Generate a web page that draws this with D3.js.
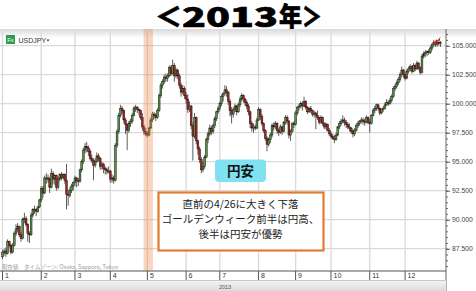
<!DOCTYPE html>
<html>
<head>
<meta charset="utf-8">
<script src="https://cdn.jsdelivr.net/npm/d3@7"></script>
<style>
  body { margin: 0; background: #fff; }
  svg { display: block; }
</style>
</head>
<body>
<svg id="chart" width="476" height="291"></svg>
<script>
// USDJPY daily candles 2013, [open, high, low, close], one array per month
const jan = [[86.8,87.4,86.6,87.2],[87.2,87.5,86.9,87.3],[87.3,87.6,86.8,87.1],[87.1,88.3,87.0,88.1],[88.1,88.2,87.6,87.8],
  [87.8,87.9,87.0,87.2],[87.2,88.0,87.1,87.8],[87.8,89.0,87.7,88.8],[88.8,89.6,88.6,89.2],[89.2,89.7,88.9,89.4],
  [89.4,89.5,88.5,88.7],[88.7,88.9,88.1,88.4],[88.4,90.2,88.3,90.0],[90.0,90.6,89.7,90.1],[90.1,90.3,89.4,89.6],
  [89.6,89.7,88.1,88.8],[88.8,89.0,88.0,88.7],[88.7,90.6,88.6,90.4],[90.4,91.0,90.2,90.9],[90.9,91.2,90.5,90.9],
  [90.9,91.0,90.3,90.7],[90.7,91.2,90.6,91.1],[91.1,91.8,91.0,91.7]];
const feb = [[91.7,92.9,91.5,92.7],[92.7,92.9,91.9,92.3],[92.3,93.8,92.2,93.6],[93.6,94.0,93.1,93.6],[93.6,93.9,93.2,93.5],
  [93.5,93.7,92.3,92.8],[92.8,94.4,92.7,94.0],[94.0,94.2,93.1,93.5],[93.5,93.9,93.0,93.8],[93.8,93.9,92.5,92.8],
  [92.8,93.7,92.6,93.5],[93.5,94.0,93.3,93.9],[93.9,94.1,93.4,93.6],[93.6,94.0,93.5,93.9],[93.9,94.0,93.1,93.4],
  [93.4,94.8,90.9,92.2],[92.2,92.6,91.2,92.1],[92.1,92.8,91.9,92.5],[92.5,93.1,92.3,92.9],[92.9,93.3,92.5,93.2]];
const mar = [[93.2,93.8,92.9,93.6],[93.6,93.7,92.8,93.4],[93.4,93.6,92.9,93.3],[93.3,94.4,93.2,94.3],[94.3,95.2,94.1,95.0],
  [95.0,96.2,94.8,96.0],[96.0,96.6,95.7,96.3],[96.3,96.7,95.8,96.2],[96.2,96.4,95.5,95.9],[95.9,96.1,95.1,95.3],
  [95.3,95.6,94.9,95.1],[95.1,95.3,93.4,94.7],[94.7,95.3,94.5,95.0],[95.0,95.8,94.9,95.5],[95.5,95.7,95.0,95.3],
  [95.3,95.4,94.3,94.6],[94.6,95.0,94.3,94.8],[94.8,94.9,94.0,94.4],[94.4,94.6,93.9,94.3],[94.3,94.5,93.9,94.2],
  [94.2,94.6,94.0,94.2]];
const apr = [[94.2,94.3,93.2,93.5],[93.5,93.9,93.2,93.6],[93.6,93.8,93.1,93.4],[93.4,96.6,93.3,96.4],[96.4,97.8,96.2,97.6],
  [97.6,99.2,97.4,99.0],[99.0,99.9,98.8,99.6],[99.6,99.8,99.1,99.4],[99.4,99.5,98.3,98.6],[98.6,98.8,97.4,98.2],
  [98.2,98.3,96.0,97.7],[97.7,98.5,97.5,98.3],[98.3,98.7,98.0,98.5],[98.5,99.2,98.3,99.0],[99.0,99.8,98.9,99.6],
  [99.6,99.9,99.3,99.7],[99.7,99.8,99.2,99.5],[99.5,99.6,99.0,99.4],[99.4,99.5,98.6,98.8],[98.8,99.2,97.7,98.0],
  [98.0,98.2,97.3,97.6],[97.6,97.9,97.2,97.4]];
const may = [[97.4,97.6,97.1,97.3],[97.3,98.0,97.2,97.9],[97.9,98.8,97.8,98.6],[98.6,99.3,98.4,99.1],[99.1,99.3,98.7,99.0],
  [99.0,99.2,98.5,98.8],[98.8,99.6,98.7,99.4],[99.4,100.9,99.3,100.7],[100.7,101.8,100.5,101.6],[101.6,102.1,101.3,101.9],
  [101.9,102.5,101.7,102.3],[102.3,102.6,101.9,102.2],[102.2,102.6,101.9,102.4],[102.4,103.3,102.3,103.1],[103.1,103.3,102.4,102.6],
  [102.6,103.8,102.5,103.3],[103.3,103.5,101.9,102.4],[102.4,103.1,102.2,102.9],[102.9,103.0,102.1,102.4],[102.4,102.6,101.3,101.6],
  [101.6,101.8,100.6,101.0],[101.0,101.6,100.8,101.3],[101.3,101.5,100.4,100.7]];
const jun = [[100.7,101.0,100.0,100.4],[100.4,100.8,99.2,99.5],[99.5,100.2,99.3,99.8],[99.8,99.9,97.8,98.1],[98.1,98.4,95.1,97.2],
  [97.2,99.2,97.0,98.8],[98.8,98.9,96.5,96.8],[96.8,96.9,95.6,96.1],[96.1,96.3,94.9,95.2],[95.2,95.4,94.0,94.3],
  [94.3,95.0,94.1,94.6],[94.6,95.6,94.4,95.4],[95.4,97.1,95.3,96.9],[96.9,97.6,96.6,97.4],[97.4,98.2,97.2,97.9],
  [97.9,98.1,97.3,97.6],[97.6,98.3,97.4,98.1],[98.1,98.9,97.9,98.7],[98.7,99.4,98.5,99.3],[99.3,99.8,99.1,99.6]];
const jul = [[99.6,100.2,99.4,100.0],[100.0,100.8,99.8,100.6],[100.6,101.0,100.2,100.9],[100.9,101.6,100.7,101.2],[101.2,101.5,100.6,101.0],
  [101.0,101.1,99.9,100.2],[100.2,100.4,98.9,99.4],[99.4,99.7,98.3,99.1],[99.1,99.7,98.8,99.5],[99.5,100.0,99.3,99.8],
  [99.8,99.9,99.0,99.3],[99.3,100.1,99.2,99.9],[99.9,100.6,99.7,100.4],[100.4,100.9,100.2,100.7],[100.7,100.8,100.1,100.4],
  [100.4,100.5,99.8,100.1],[100.1,100.3,99.5,99.8],[99.8,100.0,99.0,99.3],[99.3,99.4,97.9,98.3],[98.3,98.5,97.6,97.9],
  [97.9,98.3,97.5,98.0],[98.0,98.2,97.7,97.9],[97.9,98.8,97.8,98.6]];
const aug = [[98.6,99.7,98.5,99.5],[99.5,99.6,98.6,98.9],[98.9,99.1,98.1,98.3],[98.3,98.4,97.5,97.7],[97.7,97.8,96.8,97.0],
  [97.0,97.2,95.9,96.5],[96.5,97.1,96.3,96.9],[96.9,97.5,96.6,97.3],[97.3,98.3,97.1,98.1],[98.1,98.4,97.7,98.0],
  [98.0,98.5,97.8,98.3],[98.3,98.4,97.4,97.7],[97.7,97.9,97.2,97.5],[97.5,98.2,97.4,98.0],[98.0,98.1,97.3,97.6],
  [97.6,98.5,97.5,98.4],[98.4,99.0,98.2,98.8],[98.8,99.0,98.2,98.5],[98.5,98.6,97.0,97.3],[97.3,97.8,96.8,97.6],
  [97.6,98.4,97.5,98.3],[98.3,98.5,97.9,98.2]];
const sep = [[98.2,99.4,98.1,99.2],[99.2,99.8,99.0,99.7],[99.7,100.0,99.4,99.8],[99.8,100.2,99.6,100.0],[100.0,100.2,99.4,99.8],
  [99.8,100.6,99.7,100.2],[100.2,100.3,99.5,99.7],[99.7,99.8,99.1,99.3],[99.3,99.7,99.2,99.6],[99.6,99.8,99.2,99.4],
  [99.4,99.5,98.9,99.1],[99.1,99.4,98.8,99.2],[99.2,99.3,97.8,99.0],[99.0,99.4,98.6,98.8],[98.8,98.9,98.2,98.4],
  [98.4,99.0,98.3,98.8],[98.8,98.9,98.1,98.3],[98.3,98.4,97.8,98.0],[98.0,98.4,97.8,98.2],[98.2,98.3,97.6,97.7],
  [97.7,97.9,97.2,97.4]];
const oct = [[97.4,97.6,97.0,97.2],[97.2,97.4,96.9,97.0],[97.0,97.3,96.6,96.9],[96.9,97.5,96.8,97.3],[97.3,98.1,97.2,98.0],
  [98.0,98.5,97.8,98.3],[98.3,98.7,98.1,98.5],[98.5,99.0,98.3,98.6],[98.6,98.8,98.1,98.4],[98.4,98.6,97.9,98.2],
  [98.2,98.4,97.8,98.0],[98.0,98.3,97.6,97.9],[97.9,98.0,97.4,97.6],[97.6,97.8,97.1,97.4],[97.4,97.9,97.2,97.7],
  [97.7,98.3,97.6,98.1],[98.1,98.5,97.9,98.3],[98.3,98.6,98.1,98.5],[98.5,98.8,98.3,98.6],[98.6,98.8,98.2,98.5],
  [98.5,98.7,98.1,98.4],[98.4,99.0,98.3,98.8],[98.8,98.9,98.2,98.4]];
const nov = [[98.4,98.7,97.5,98.3],[98.3,99.1,98.2,99.0],[99.0,99.6,98.9,99.4],[99.4,99.8,99.2,99.6],[99.6,100.0,99.4,99.9],
  [99.9,100.0,99.4,99.6],[99.6,99.7,99.0,99.2],[99.2,99.6,99.1,99.5],[99.5,99.8,99.3,99.6],[99.6,100.1,99.5,99.9],
  [99.9,100.4,99.8,100.1],[100.1,100.3,99.8,100.0],[100.0,100.5,99.9,100.3],[100.3,100.8,100.1,100.6],[100.6,101.5,100.5,101.3],
  [101.3,101.7,101.1,101.5],[101.5,102.0,101.3,101.8],[101.8,102.3,101.6,102.1],[102.1,102.7,101.9,102.5],[102.5,103.2,102.3,102.9],
  [102.9,103.0,102.2,102.5]];
const dec = [[102.5,102.7,102.0,102.2],[102.2,103.0,102.1,102.8],[102.8,103.2,102.6,103.0],[103.0,103.4,102.8,103.2],[103.2,103.3,102.6,102.8],
  [102.8,103.5,102.7,103.3],[103.3,103.4,102.8,103.0],[103.0,103.7,102.9,103.5],[103.5,103.6,102.9,103.1],[103.1,103.2,102.5,102.7],
  [102.7,104.3,102.6,104.1],[104.1,104.5,103.9,104.3],[104.3,104.6,104.0,104.4],[104.4,104.6,104.1,104.5],[104.5,104.7,104.2,104.4],
  [104.4,105.0,104.3,104.8],[104.8,105.2,104.6,105.1],[105.1,105.5,104.9,105.3],[105.3,105.4,104.9,105.1],[105.1,105.4,104.9,105.3],
  [105.3,105.5,105.0,105.2],[105.2,105.4,104.9,105.3]];

const months = [jan, feb, mar, apr, may, jun, jul, aug, sep, oct, nov, dec];
const monthLabels = ["1","2","3","4","5","6","7","8","9","10","11","12"];
const priceTicks = [87.5, 90, 92.5, 95, 97.5, 100, 102.5, 105];
const yearLabel = "2013";
// Golden Week shading: first and last trading day index (Apr 29 .. May 6)
const gwStart = 84, gwEnd = 89;

const candles = [];
const monthStart = [];
months.forEach(m => {
  monthStart.push(candles.length);
  m.forEach(d => candles.push({i: candles.length, o: d[0], h: d[1], l: d[2], c: d[3]}));
});

const svg = d3.select('#chart');
const W = 476, H = 291;
const plot = {left: 0, right: 446, top: 29, bottom: 271};

const x = d3.scaleLinear().domain([0, candles.length - 1]).range([2.5, 440.5]);
const y = d3.scaleLinear().domain([87.5, 105]).range([248.7, 45.7]);

// title: wide heavy lettering, each piece stretched to its width
const titleParts = [
  {t: '＜', x: 155, w: 27},
  {t: '2013', x: 182, w: 96},
  {t: '年', x: 279, w: 23},
  {t: '＞', x: 302, w: 20}
];
let title = svg.append('text')
  .attr('y', 27)
  .style('font-family', '"Noto Sans CJK JP", sans-serif')
  .style('font-weight', 900).style('font-size', '27px')
  .style('fill', '#000').style('stroke', '#000').style('stroke-width', 0.6);
title.selectAll('tspan').data(titleParts).enter().append('tspan')
  .attr('x', d => d.x)
  .attr('textLength', d => d.w).attr('lengthAdjust', 'spacingAndGlyphs')
  .text(d => d.t);

const defs = svg.append('defs');
let g1 = defs.append('linearGradient').attr('id', 'topShade').attr('x1', 0).attr('x2', 0).attr('y1', 0).attr('y2', 1);
g1.append('stop').attr('offset', '0%').attr('stop-color', '#d9d9d9');
g1.append('stop').attr('offset', '100%').attr('stop-color', '#ffffff');
let g2 = defs.append('linearGradient').attr('id', 'botShade').attr('x1', 0).attr('x2', 0).attr('y1', 0).attr('y2', 1);
g2.append('stop').attr('offset', '0%').attr('stop-color', '#f4f4f4');
g2.append('stop').attr('offset', '100%').attr('stop-color', '#dcdcdc');
defs.append('clipPath').attr('id', 'plotClip')
  .append('rect').attr('x', plot.left).attr('y', plot.top)
  .attr('width', plot.right - plot.left).attr('height', plot.bottom - plot.top);

// panel top shading
svg.append('rect').attr('x', 0).attr('y', plot.top).attr('width', W).attr('height', 9)
  .attr('fill', 'url(#topShade)');

// grid
let grid = svg.append('g').attr('clip-path', 'url(#plotClip)');
grid.selectAll('.hg').data(priceTicks).enter().append('line')
  .attr('x1', plot.left).attr('x2', plot.right)
  .attr('y1', d => y(d)).attr('y2', d => y(d))
  .attr('stroke', '#dadada').attr('stroke-width', 1.3);
grid.selectAll('.vg').data(monthStart).enter().append('line')
  .attr('x1', d => x(d)).attr('x2', d => x(d))
  .attr('y1', plot.top).attr('y2', plot.bottom)
  .attr('stroke', '#dadada').attr('stroke-width', 1.3);

// candles
let cg = svg.append('g').attr('clip-path', 'url(#plotClip)');
cg.selectAll('.wick').data(candles).enter().append('line')
  .attr('x1', d => x(d.i)).attr('x2', d => x(d.i))
  .attr('y1', d => y(d.h)).attr('y2', d => y(d.l))
  .attr('stroke', '#4a4a4a').attr('stroke-width', 0.9);
cg.selectAll('.body').data(candles).enter().append('rect')
  .attr('x', d => x(d.i) - 0.9)
  .attr('width', 1.8)
  .attr('y', d => y(Math.max(d.o, d.c)))
  .attr('height', d => Math.max(1.2, Math.abs(y(d.o) - y(d.c))))
  .attr('fill', d => d.c >= d.o ? '#5b8c4c' : '#a3262a')
  .attr('stroke', d => d.c >= d.o ? '#17230f' : '#320c0c')
  .attr('stroke-width', 0.5);

// golden week band (over the candles, translucent)
svg.append('rect')
  .attr('x', x(gwStart) - 0.5).attr('y', plot.top)
  .attr('width', x(gwEnd) - x(gwStart) + 1).attr('height', plot.bottom - plot.top)
  .attr('fill', '#f08040').attr('opacity', 0.33);

// current price marker
let last = candles[candles.length - 1];
let mx = x(last.i) - 7, my = y(last.c) + 1;
svg.append('path')
  .attr('d', `M${mx},${my} L${mx + 3},${my - 4} L${mx + 4},${my - 3} L${mx + 7},${my - 6.5} L${mx + 6},${my - 2} L${mx + 5},${my - 3} L${mx + 3.5},${my - 1.5} L${mx + 1},${my + 1} Z`)
  .attr('fill', '#e02020');

// right axis
svg.append('line').attr('x1', plot.right).attr('x2', plot.right).attr('y1', plot.top).attr('y2', H)
  .attr('stroke', '#666').attr('stroke-width', 1);
let minor = d3.range(85.5, 106.6, 0.5).filter(v => y(v) > plot.top + 2 && y(v) < plot.bottom - 2);
svg.append('g').attr('transform', `translate(${plot.right},0)`)
  .call(d3.axisRight(y).tickValues(minor).tickSize(2).tickFormat(''))
  .call(g => g.select('.domain').remove())
  .call(g => g.selectAll('line').attr('stroke', '#666'));
svg.append('g').attr('transform', `translate(${plot.right},0)`)
  .call(d3.axisRight(y).tickValues(priceTicks).tickSize(4).tickPadding(2).tickFormat(d3.format('.3f')))
  .call(g => g.select('.domain').remove())
  .call(g => g.selectAll('line').attr('stroke', '#555'))
  .call(g => g.selectAll('text').attr('fill', '#444')
    .style('font-family', '"Liberation Sans", Arial, sans-serif').style('font-size', '6.8px'));

// bottom axis
svg.append('rect').attr('x', 0).attr('y', 280).attr('width', plot.right).attr('height', H - 280)
  .attr('fill', 'url(#botShade)');
svg.append('line').attr('x1', 0).attr('x2', plot.right).attr('y1', plot.bottom).attr('y2', plot.bottom)
  .attr('stroke', '#555').attr('stroke-width', 1);
svg.append('line').attr('x1', 0).attr('x2', plot.right).attr('y1', 280.5).attr('y2', 280.5)
  .attr('stroke', '#c8c8c8').attr('stroke-width', 1);
let xt = svg.append('g').selectAll('g').data(monthStart).enter().append('g');
xt.append('line')
  .attr('x1', d => x(d)).attr('x2', d => x(d))
  .attr('y1', plot.bottom).attr('y2', 280)
  .attr('stroke', '#555').attr('stroke-width', 1);
xt.append('text')
  .attr('x', d => x(d) + 2.5).attr('y', 278)
  .style('font-family', '"Liberation Sans", Arial, sans-serif').style('font-size', '7px')
  .attr('fill', '#333')
  .text((d, i) => monthLabels[i]);
svg.append('text')
  .attr('x', 225).attr('y', 288.5).attr('text-anchor', 'middle')
  .style('font-family', '"Liberation Sans", Arial, sans-serif').style('font-size', '5.5px')
  .attr('fill', '#555').text(yearLabel);

// footnote in the plot
svg.append('text')
  .attr('x', 2).attr('y', 268.5)
  .style('font-family', '"Noto Sans CJK JP", sans-serif').style('font-size', '5.5px')
  .attr('fill', '#9a9a9a')
  .text('現在値　タイムゾーン: Osaka, Sapporo, Tokyo');

// symbol label
svg.append('rect').attr('x', 6).attr('y', 35).attr('width', 9).attr('height', 9).attr('fill', '#2f9a4c');
svg.append('text').attr('x', 10.5).attr('y', 42).attr('text-anchor', 'middle')
  .style('font-family', '"Liberation Sans", Arial, sans-serif').style('font-size', '6px')
  .attr('fill', '#fff').text('Fx');
svg.append('text').attr('x', 18.5).attr('y', 42.5)
  .style('font-family', '"Liberation Sans", Arial, sans-serif').style('font-size', '7px')
  .attr('fill', '#333').text('USDJPY');
svg.append('path').attr('d', 'M46.5,39.5 L49.5,39.5 L48,41.5 Z').attr('fill', '#333');

// callouts
svg.append('rect').attr('x', 215).attr('y', 159.5).attr('width', 51).attr('height', 22.5)
  .attr('rx', 4).attr('fill', '#80e1f1');
svg.append('text').attr('x', 240.5).attr('y', 176).attr('text-anchor', 'middle')
  .style('font-family', '"Noto Sans CJK JP", sans-serif').style('font-weight', 700).style('font-size', '13.5px')
  .attr('fill', '#111').text('円安');

svg.append('rect').attr('x', 158.5).attr('y', 192.5).attr('width', 165).attr('height', 58)
  .attr('fill', '#fff').attr('stroke', '#e57a2e').attr('stroke-width', 2.2);
const noteLines = ['直前の4/26に大きく下落', 'ゴールデンウィーク前半は円高、', '後半は円安が優勢'];
svg.append('g').selectAll('text').data(noteLines).enter().append('text')
  .attr('x', 240.5).attr('y', (d, i) => 207.5 + i * 15.3)
  .attr('text-anchor', 'middle')
  .style('font-family', '"Noto Sans CJK JP", sans-serif').style('font-size', '10.5px')
  .attr('fill', '#222')
  .text(d => d);
</script>
</body>
</html>
